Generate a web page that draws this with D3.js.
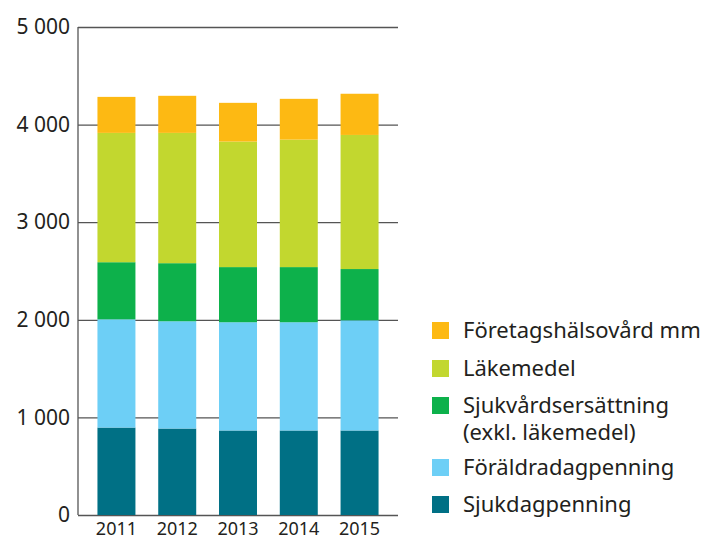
<!DOCTYPE html>
<html>
<head>
<meta charset="utf-8">
<style>
  body { margin: 0; background: #fff; font-family: "Noto Sans", sans-serif; }
  svg { display: block; }
  .tick text { fill: #231f20; }
</style>
<script src="https://cdn.jsdelivr.net/npm/d3@7"></script>
</head>
<body>
<svg id="chart"></svg>
<script>
// data
const years = ["2011", "2012", "2013", "2014", "2015"];
const sjukdagpenning = [896, 886, 866, 866, 866];
const foraldradagpenning = [1109, 1099, 1109, 1109, 1129];
const sjukvardsersattning = [585, 595, 565, 565, 525];
const lakemedel = [1325, 1335, 1286, 1306, 1374];
const foretagshalsovard = [369, 380, 397, 418, 422];
const yTicks = [0, 1000, 2000, 3000, 4000, 5000];

const series = [
  { key: "sjuk", label: ["Sjukdagpenning"], values: sjukdagpenning, color: "#007085" },
  { key: "foral", label: ["Föräldradagpenning"], values: foraldradagpenning, color: "#6dcff6" },
  { key: "vard", label: ["Sjukvårdsersättning", "(exkl. läkemedel)"], values: sjukvardsersattning, color: "#0db14b" },
  { key: "lake", label: ["Läkemedel"], values: lakemedel, color: "#c2d72f" },
  { key: "foret", label: ["Företagshälsovård mm"], values: foretagshalsovard, color: "#fdb913" }
];

const width = 710, height = 541;
const margin = { top: 27, left: 78, bottom: 26, right: 312 };
const plotBottom = height - margin.bottom;

const svg = d3.select("#chart").attr("width", width).attr("height", height);

const table = years.map((y, i) => {
  const row = { year: y };
  series.forEach(s => row[s.key] = s.values[i]);
  return row;
});
const stacked = d3.stack().keys(series.map(s => s.key))(table);

const x = d3.scaleBand()
  .domain(years)
  .range([margin.left, width - margin.right])
  .paddingInner(0.375)
  .paddingOuter(0.32);

const y = d3.scaleLinear()
  .domain([0, 5000])
  .range([plotBottom, margin.top]);

// grid + y axis
svg.append("g")
  .attr("transform", `translate(${margin.left},0)`)
  .call(d3.axisLeft(y).tickValues(yTicks).tickSize(-(width - margin.right - margin.left)).tickFormat(v => d3.format(",")(v).replace(",", " ")))
  .call(g => g.select(".domain").remove())
  .call(g => g.selectAll(".tick line").attr("stroke", "#555").attr("stroke-width", 1.3))
  .call(g => g.selectAll(".tick text").attr("x", -8).attr("font-size", 21).attr("font-family", "Noto Sans"));

// bars
svg.append("g").selectAll("g")
  .data(stacked)
  .join("g")
  .attr("fill", (d, i) => series[i].color)
  .selectAll("rect")
  .data(d => d)
  .join("rect")
  .attr("x", d => x(d.data.year))
  .attr("width", x.bandwidth())
  .attr("y", d => y(d[1]))
  .attr("height", d => y(d[0]) - y(d[1]));

// y axis line
svg.append("line")
  .attr("x1", margin.left).attr("x2", margin.left)
  .attr("y1", margin.top).attr("y2", plotBottom)
  .attr("stroke", "#555").attr("stroke-width", 1.3);

// x axis labels
svg.append("g")
  .attr("transform", `translate(0,${plotBottom})`)
  .call(d3.axisBottom(x).tickSize(0).tickPadding(7))
  .call(g => g.select(".domain").remove())
  .call(g => g.selectAll(".tick text").attr("font-size", 18).attr("font-family", "Noto Sans"));

// legend
const legendRows = [
  { s: series[4], y: 330 },
  { s: series[3], y: 368 },
  { s: series[2], y: 405 },
  { s: series[1], y: 467 },
  { s: series[0], y: 504 }
];
const legend = svg.append("g");
legendRows.forEach(r => {
  legend.append("rect")
    .attr("x", 432).attr("y", r.y - 8)
    .attr("width", 17).attr("height", 17)
    .attr("fill", r.s.color);
  r.s.label.forEach((t, j) => {
    legend.append("text")
      .attr("x", 463).attr("y", r.y + j * 27)
      .attr("dy", "0.35em")
      .attr("font-size", 22)
      .attr("fill", "#231f20")
      .text(t);
  });
});
</script>
</body>
</html>
